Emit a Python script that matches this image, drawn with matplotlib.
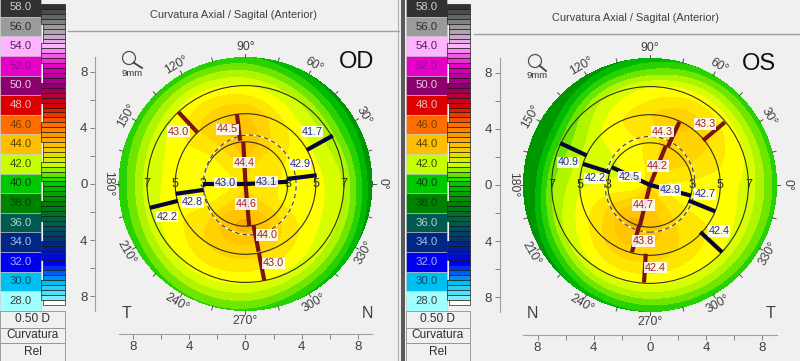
import numpy as np
import matplotlib
matplotlib.use('Agg')
import matplotlib.pyplot as plt
from matplotlib.colors import ListedColormap, BoundaryNorm
from matplotlib.patches import Rectangle, Circle, Ellipse

plt.rcParams['font.family'] = ['Liberation Sans', 'DejaVu Sans']

# legend scale
scale_values = [58, 56, 54, 52, 50, 48, 46, 44, 42, 40, 38, 36, 34, 32, 30, 28]
scale_colors = ['#323232', '#9b9b9b', '#ffb4ff', '#e600c8', '#8c006e', '#dc0000', '#ff6e00', '#ffbe00',
                '#c8ff00', '#00c800', '#008200', '#005a50', '#002882', '#0000f0', '#00bef0', '#a0ffff']
scale_text = ['#d0d0d0', '#303030', '#502060', '#901090', '#e6c8e6', '#f0b4b4', '#783c00', '#5a4600',
              '#325000', '#004600', '#004600', '#aad2d2', '#aabee6', '#aaaaff', '#00506e', '#3c3c3c']
scale_footer = ['0.50 D', 'Curvatura', 'Rel']

# map surface: rows = meridian, columns = radius in mm
angles = [0, 30, 60, 90, 120, 150, 180, 210, 240, 270, 300, 330]
radii = [0, 1, 3, 5, 7, 8, 9]
od_field = [
    [43.3, 43.2, 42.9, 42.7, 42.0, 40.8, 39.5],
    [43.3, 43.2, 43.0, 42.6, 41.6, 40.6, 39.7],
    [43.3, 43.3, 43.6, 43.1, 42.0, 41.0, 39.9],
    [43.3, 43.7, 44.6, 44.1, 42.5, 41.6, 40.6],
    [43.3, 43.2, 43.6, 43.9, 42.8, 41.8, 40.6],
    [43.3, 43.0, 42.7, 42.8, 42.3, 41.5, 40.7],
    [43.3, 43.0, 42.8, 42.7, 42.2, 41.3, 40.5],
    [43.3, 43.0, 42.9, 43.0, 42.4, 41.5, 40.6],
    [43.3, 43.5, 44.3, 43.6, 42.7, 41.8, 40.9],
    [43.3, 44.0, 44.8, 43.7, 42.6, 41.8, 40.9],
    [43.3, 43.5, 44.2, 43.4, 42.4, 41.4, 40.4],
    [43.3, 43.2, 42.9, 42.8, 42.1, 41.2, 40.0],
]
os_field = [
    [43.3, 42.9, 42.8, 42.7, 42.3, 41.6, 40.7],
    [43.3, 43.3, 43.6, 43.4, 42.7, 41.6, 40.7],
    [43.3, 43.5, 44.0, 44.2, 42.9, 41.8, 40.6],
    [43.3, 43.2, 43.1, 43.5, 42.5, 41.2, 40.2],
    [43.3, 42.8, 42.8, 42.9, 42.0, 40.8, 39.6],
    [43.3, 42.6, 42.4, 42.1, 41.0, 39.9, 39.0],
    [43.3, 42.6, 42.5, 42.4, 41.4, 40.0, 39.1],
    [43.3, 43.2, 43.7, 43.0, 42.0, 40.8, 39.6],
    [43.3, 44.0, 44.7, 43.8, 42.6, 41.4, 40.2],
    [43.3, 44.0, 44.5, 43.8, 42.6, 41.6, 40.5],
    [43.3, 43.6, 43.6, 43.4, 42.6, 41.6, 40.6],
    [43.3, 43.0, 42.9, 42.9, 42.4, 41.6, 40.7],
]
field_levels = [30, 40, 40.5, 41, 41.5, 42, 42.5, 43, 43.5, 44, 44.5, 50]
field_colors = ['#009600', '#00b900', '#28d200', '#6ee600', '#aff500', '#d7ff00',
                '#ffff00', '#ffe600', '#ffd200', '#ffc300', '#fbae00']

# semi-meridian bars: angle, from r, to r, value, label x, label y
od_steep = [
    (93, 0, 3.0, '44.4', -0.11, 1.52), (275, 0, 3.0, '44.6', 0.04, -1.42),
    (97, 3.1, 5.0, '44.5', -1.29, 3.89), (281, 3.0, 4.9, '44.0', 1.55, -3.63),
    (133, 5.0, 7.0, '43.0', -4.77, 3.72), (281, 5.0, 7.0, '43.0', 1.98, -5.64),
]
od_flat = [
    (3, 0, 3.0, '43.1', 1.5, 0.17), (180, 0, 3.0, '43.0', -1.41, 0.09),
    (7, 3.0, 5.1, '42.9', 3.87, 1.40), (188, 3.0, 5.0, '42.8', -3.76, -1.28),
    (29, 5.0, 7.1, '41.7', 4.75, 3.72), (194, 4.95, 7.0, '42.2', -5.56, -2.32),
]
os_steep = [
    (68, 0, 3.0, '44.2', 0.55, 1.35), (256, 0, 3.0, '44.7', -0.47, -1.42),
    (65, 3.0, 4.95, '44.3', 0.88, 3.79), (255, 3.0, 4.95, '43.8', -0.47, -3.98),
    (40, 4.93, 6.93, '43.3', 3.91, 4.34), (266.5, 4.9, 6.95, '42.4', 0.40, -5.88),
]
os_flat = [
    (155, 0, 3.0, '42.5', -1.47, 0.59), (345.5, 0, 3.0, '42.9', 1.42, -0.36),
    (162.5, 3.0, 5.0, '42.2', -3.91, 0.47), (338, 2.95, 5.0, '42.7', 3.91, -0.66),
    (155, 4.95, 7.05, '40.9', -5.81, 1.61), (317, 4.9, 7.0, '42.4', 4.91, -3.27),
]

degree_labels = [0, 30, 60, 90, 120, 150, 180, 210, 240, 270, 300, 330]
degree_rot = [-90, -60, -30, 0, 30, 60, -90, -60, -30, 0, 30, 60]
ring_radii = [3, 5, 7]
mm_ticks = [-8, -6, -4, -2, 0, 2, 4, 6, 8]
mm_labels = ['8', '', '4', '', '0', '', '4', '', '8']

BG = '#f0f0f0'
PX_MM = 14.06
HALF = 13.0


def hex_rgb(c):
    return np.array(matplotlib.colors.to_rgb(c))


def smooth_field(field):
    # fine polar grid from the read values, softened so the bands come out round
    field = np.array(field)
    th = np.linspace(0, 360, 361)
    rr = np.linspace(0, 9, 91)
    closed = np.vstack([field, field[:1]])
    ang = np.array(angles + [360])
    z = np.array([np.interp(th, ang, closed[:, j]) for j in range(len(radii))]).T
    z = np.array([np.interp(rr, radii, row) for row in z])
    kern = np.hanning(41)
    kern /= kern.sum()
    z = np.array([np.convolve(np.r_[z[-20:, j], z[:-1, j], z[:21, j]], kern, 'valid') for j in range(z.shape[1])]).T
    z2 = z.copy()
    kern = np.hanning(13)
    kern /= kern.sum()
    for i in range(z.shape[0]):
        pad = np.r_[np.full(6, z[i, 0]), z[i], z[i, -1] + (z[i, -1] - z[i, -7:-1][::-1])]
        z2[i] = np.convolve(pad, kern, 'valid')
    t = np.radians(th)[:, None]
    return rr[None, :] * np.cos(t), rr[None, :] * np.sin(t), z2


def draw_bars(ax, bars, bar_color, text_color):
    for ang, r0, r1, val, lx, ly in bars:
        a = np.radians(ang)
        ax.plot([r0 * np.cos(a), r1 * np.cos(a)], [r0 * np.sin(a), r1 * np.sin(a)],
                color=bar_color, lw=3.0, solid_capstyle='butt', zorder=5)
    for ang, r0, r1, val, lx, ly in bars:
        ax.text(lx, ly, val, color=text_color, fontsize=7.8, ha='center', va='center', zorder=6,
                bbox=dict(facecolor='white', edgecolor='none', pad=0.5, alpha=0.88))


def draw_map(fig, cx, cy, field, steep, flat, pupil):
    w = 2 * HALF * PX_MM
    ax = fig.add_axes([(cx - w / 2) / 800, 1 - (cy + w / 2) / 361, w / 800, w / 361])
    ax.set_xlim(-HALF, HALF)
    ax.set_ylim(-HALF, HALF)
    ax.patch.set_visible(False)

    X, Y, Z = smooth_field(field)
    ax.contourf(X, Y, Z, levels=field_levels, cmap=ListedColormap(field_colors),
                norm=BoundaryNorm(field_levels, len(field_colors)), zorder=1)

    for r in ring_radii:
        ax.add_patch(Circle((0, 0), r, fill=False, edgecolor='#303020', lw=0.8, zorder=3))
        for s in (-1, 1):
            ax.text(s * r, 0, str(r), fontsize=9, color='#303020', ha='center', va='center', zorder=3.5)
    ax.add_patch(Ellipse(pupil[:2], 2 * pupil[2], 2 * pupil[3], fill=False, edgecolor='#fff8c0', lw=1.0, zorder=3))
    ax.add_patch(Ellipse(pupil[:2], 2 * pupil[2], 2 * pupil[3], fill=False, edgecolor='#404030', lw=0.8,
                         ls=(0, (4, 3)), zorder=3.2))

    draw_bars(ax, steep, '#7a1414', '#96203c')
    draw_bars(ax, flat, '#05053a', '#28288c')

    # degree ring
    for d in np.arange(0, 360, 15):
        a = np.radians(d)
        ax.plot([9 * np.cos(a), 9.28 * np.cos(a)], [9 * np.sin(a), 9.28 * np.sin(a)],
                color='#505050', lw=0.7, zorder=2)
    for d, rot in zip(degree_labels, degree_rot):
        a = np.radians(d)
        ax.text(9.75 * np.cos(a), 9.75 * np.sin(a), f'{d}°', fontsize=8.8, rotation=rot, color='#404040',
                ha='center', va='center', rotation_mode='anchor')

    # mm axes
    for side in ('top', 'right'):
        ax.spines[side].set_visible(False)
    ax.spines['left'].set_position(('data', -10.7))
    ax.spines['bottom'].set_position(('data', -10.65))
    ax.spines['left'].set_bounds(-9, 9)
    ax.spines['bottom'].set_bounds(-9, 9)
    ax.spines['left'].set_color('#a0a0a0')
    ax.spines['bottom'].set_color('#a0a0a0')
    ax.set_xticks(mm_ticks, mm_labels)
    ax.set_yticks(mm_ticks, mm_labels)
    ax.tick_params(length=3.5, width=0.7, color='#808080', labelcolor='#404040', labelsize=9.5, pad=2)
    return ax


def draw_scale(root, x0, x1, x2):
    ch = 19.6
    top = -2.8
    for i, (v, c, t) in enumerate(zip(scale_values, scale_colors, scale_text)):
        root.add_patch(Rectangle((x0, top + i * ch), x1 - x0, ch, facecolor=c, edgecolor='#c8c8c8', lw=0.4))
        root.text((x0 + x1) / 2, top + (i + 0.5) * ch, f'{v:.1f}', color=t, fontsize=8.2, ha='center', va='center')
    # fine stripes, 0.5 D each
    sv = np.arange(58, 27.5, -0.5)
    rgb = np.array([hex_rgb(c) for c in scale_colors])
    sh = 4.93
    for i, v in enumerate(sv):
        col = [np.interp(v, scale_values[::-1], rgb[::-1, k]) for k in range(3)]
        if i == len(sv) - 1:
            col = (1, 1, 1)
        left = x1 if (i // 4) % 2 == 0 else x1 + 1.5
        root.add_patch(Rectangle((left, 4 + i * sh), x2 - left, sh, facecolor=col, edgecolor='#101010', lw=0.45))
    ys = [311, 328, 343, 361]
    for k, name in enumerate(scale_footer):
        root.add_patch(Rectangle((x0, ys[k]), x2 - x0, ys[k + 1] - ys[k], facecolor=BG, edgecolor='#909090', lw=0.6))
        root.text((x0 + x2) / 2, (ys[k] + ys[k + 1]) / 2, name, color='#303030', fontsize=8.6, ha='center', va='center')


def draw_lens(root, x, y, lx, ly, tx, ty):
    root.add_patch(Circle((x, y), 6.5, fill=False, edgecolor='#505050', lw=0.9))
    root.plot([x + 4.6, lx], [y + 4.6, ly], color='#404040', lw=1.3)
    root.text(tx, ty, '9mm', fontsize=6.8, color='#303030', ha='center', va='center')


fig = plt.figure(figsize=(8.0, 3.61), dpi=100, facecolor=BG)
root = fig.add_axes([0, 0, 1, 1])
root.set_xlim(0, 800)
root.set_ylim(361, 0)
root.axis('off')

draw_scale(root, 0, 41, 65)
draw_scale(root, 406, 447, 470)

# window chrome
root.plot([68, 399], [31, 31], color='#a0a0a0', lw=1.0)
root.plot([474, 800], [34, 34], color='#a0a0a0', lw=1.0)
root.plot([398, 398], [0, 361], color='#b0b0b0', lw=0.8)
root.add_patch(Rectangle((401, 0), 4, 361, facecolor='#5a5a5a', edgecolor='none'))
root.text(233, 15, 'Curvatura Axial / Sagital (Anterior)', fontsize=7.9, color='#404040', ha='center', va='center')
root.text(636, 18, 'Curvatura Axial / Sagital (Anterior)', fontsize=7.9, color='#404040', ha='center', va='center')
root.text(357, 62, 'OD', fontsize=17, color='#101010', ha='center', va='center')
root.text(759, 64, 'OS', fontsize=17, color='#101010', ha='center', va='center')
for tx, lab in [(127, 'T'), (367, 'N'), (532, 'N'), (770, 'T')]:
    root.text(tx, 314, lab, fontsize=11.5, color='#404040', ha='center', va='center')
draw_lens(root, 129, 58, 142, 68, 132, 73)
draw_lens(root, 535, 61, 546, 71, 537, 76)

draw_map(fig, 245.5, 184, od_field, od_steep, od_flat, (0.3, -0.07, 3.3, 3.55))
draw_map(fig, 650, 185, os_field, os_steep, os_flat, (0.0, 0.05, 3.2, 3.4))

fig.savefig('out.png', dpi=100, facecolor=BG)
